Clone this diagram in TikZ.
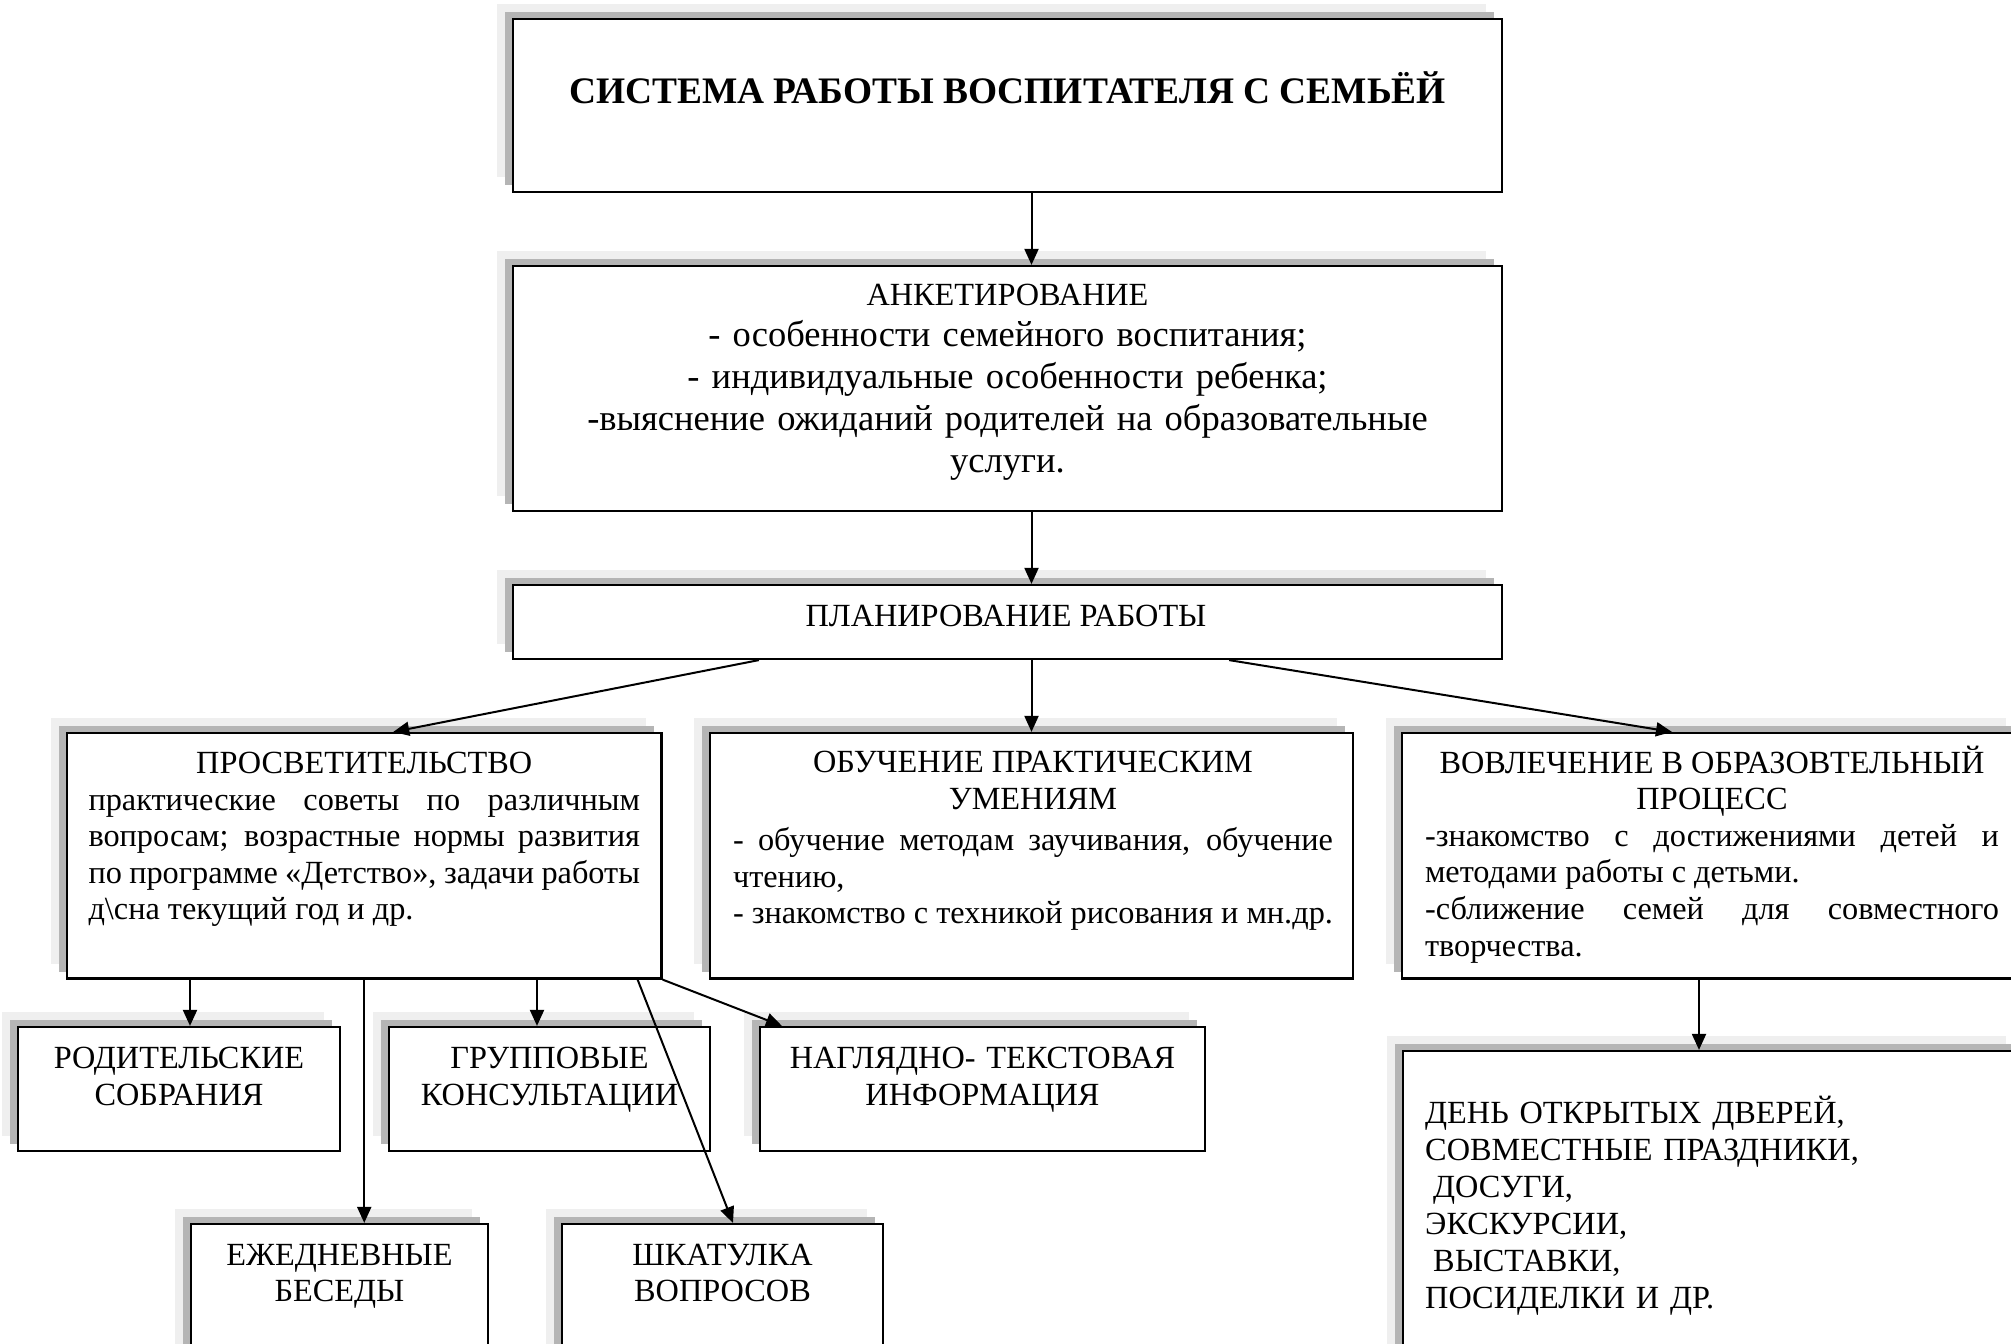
\documentclass[tikz,border=0pt]{standalone}
\usepackage{fontspec}
\setmainfont{Liberation Serif}
\usetikzlibrary{arrows.meta, shadows}
\definecolor{shlight}{HTML}{EFEFEF}
\definecolor{shdark}{HTML}{B5B5B5}
\setlength{\parindent}{0pt}
\hyphenpenalty=10000
\exhyphenpenalty=10000
\tolerance=9999
\hbadness=10000

\begin{document}
\begin{tikzpicture}[x=1pt, y=-1pt,
    box/.style={draw, line width=2.2pt, fill=white, inner sep=0pt,
      general shadow={shadow xshift=-16pt, shadow yshift=15pt, fill=shlight},
      general shadow={shadow xshift=-8pt, shadow yshift=7pt, fill=shdark}},
    txt/.style={inner sep=0pt, anchor=base, align=center, font=\fontsize{32.3}{37}\selectfont},
    para/.style={inner sep=0pt, anchor=base, align=justify, font=\fontsize{32.3}{36.6}\selectfont},
    arr/.style={line width=2pt, -{Triangle[length=16pt, width=14pt]}}]
    \useasboundingbox (0,0) rectangle (2011,1344);
    \clip (0,0) rectangle (2011,1344);

    % Top boxes
    \node[box, minimum width=989pt, minimum height=173pt] (title) at (1007.5,105.5) {};
    \node[box, minimum width=989pt, minimum height=245pt] (anket) at (1007.5,388.5) {};
    \node[box, minimum width=989pt, minimum height=74pt] (plan) at (1007.5,622) {};

    % Middle row
    \node[box, minimum width=594.5pt, minimum height=245.5pt] (prosvet) at (364.25,855.75) {};
    \node[box, minimum width=643pt, minimum height=245.5pt] (obuch) at (1031.5,855.75) {};
    \node[box, minimum width=620pt, minimum height=245.5pt] (vovl) at (1712,855.75) {};

    % Forms of work
    \node[box, minimum width=322pt, minimum height=124pt] (rodit) at (179,1089) {};
    \node[box, minimum width=321pt, minimum height=124pt] (grupp) at (549.5,1089) {};
    \node[box, minimum width=445pt, minimum height=124pt] (nagl) at (982.5,1089) {};
    \node[box, minimum width=297pt, minimum height=160pt] (ezhed) at (339.5,1304) {};
    \node[box, minimum width=321pt, minimum height=160pt] (shkat) at (722.5,1304) {};
    \node[box, minimum width=619pt, minimum height=330pt] (den) at (1712.5,1216) {};

    % Texts
    \node[inner sep=0pt, anchor=base, font=\fontsize{37.4}{42}\selectfont\bfseries] (titletxt) at (1007.5,103) {СИСТЕМА РАБОТЫ ВОСПИТАТЕЛЯ С СЕМЬЁЙ};
    \node[txt, text width=940pt, font=\fontsize{36.5}{41.8}\selectfont] (ankettxt) at (1007.5,305) {{\fontsize{32.3}{41.8}\selectfont АНКЕТИРОВАНИЕ}\\- особенности семейного воспитания;\\- индивидуальные особенности ребенка;\\-выяснение ожиданий родителей на образовательные\\услуги.};
    \node[txt] (plantxt) at (1006,626) {ПЛАНИРОВАНИЕ РАБОТЫ};
    \node[para, text width=551.5pt] (prosvettxt) at (364.25,773.5) {{\centering ПРОСВЕТИТЕЛЬСТВО\par}практические советы по различным\linebreak вопросам; возрастные нормы развития\linebreak по программе «Детство», задачи работы\linebreak д\textbackslash{}сна текущий год и др.};
    \node[para, text width=600pt] (obuchtxt) at (1033,772.5) {{\centering ОБУЧЕНИЕ ПРАКТИЧЕСКИМ\\УМЕНИЯМ\par}\vspace{5pt}- обучение методам заучивания, обучение\linebreak чтению,\par - знакомство с техникой рисования и мн.др.};
    \node[para, text width=574pt] (vovltxt) at (1712,773) {{\centering ВОВЛЕЧЕНИЕ В ОБРАЗОВТЕЛЬНЫЙ\\ПРОЦЕСС\par}-знакомство с достижениями детей и\linebreak методами работы с детьми.\par -сближение семей для совместного\linebreak творчества.};
    \node[txt, text width=300pt] (rodittxt) at (179,1068) {РОДИТЕЛЬСКИЕ\\СОБРАНИЯ};
    \node[txt, text width=300pt] (grupptxt) at (549.5,1068) {ГРУППОВЫЕ\\КОНСУЛЬТАЦИИ};
    \node[txt, text width=420pt] (nagltxt) at (982.5,1068) {НАГЛЯДНО- ТЕКСТОВАЯ\\ИНФОРМАЦИЯ};
    \node[txt, text width=280pt, font=\fontsize{32.3}{36.5}\selectfont] (ezhedtxt) at (339.5,1265) {ЕЖЕДНЕВНЫЕ\\БЕСЕДЫ};
    \node[txt, text width=300pt, font=\fontsize{32.3}{36.5}\selectfont] (shkattxt) at (722.5,1265) {ШКАТУЛКА\\ВОПРОСОВ};
    \node[txt, text width=560pt, align=left, anchor=base west, font=\fontsize{32.3}{36.9}\selectfont] (dentxt) at (1425,1123.5) {ДЕНЬ ОТКРЫТЫХ ДВЕРЕЙ,\\СОВМЕСТНЫЕ ПРАЗДНИКИ,\\\hspace*{8pt}ДОСУГИ,\\ЭКСКУРСИИ,\\\hspace*{8pt}ВЫСТАВКИ,\\ПОСИДЕЛКИ И ДР.};

    % Arrows
    \draw[arr] (title.south -| obuch.north) -- (anket.north -| obuch.north);
    \draw[arr] (anket.south -| obuch.north) -- (plan.north -| obuch.north);
    \draw[arr] (plan.south -| obuch.north) -- (obuch.north);
    \draw[arr] ([xshift=247pt]plan.south west) -- ([xshift=29pt]prosvet.north);
    \draw[arr] ([xshift=-274pt]plan.south east) -- ([xshift=-40pt]vovl.north);
    \draw[arr] ([xshift=11pt]rodit.north |- prosvet.south) -- ([xshift=11pt]rodit.north);
    \draw[arr] ([xshift=-12.5pt]grupp.north |- prosvet.south) -- ([xshift=-12.5pt]grupp.north);
    \draw[arr] (prosvet.south) -- (prosvet.south |- ezhed.north);
    \draw[arr] ([xshift=-25pt]prosvet.south east) -- ([xshift=10.5pt]shkat.north);
    \draw[arr] (prosvet.south east) -- ([xshift=23pt]nagl.north west);
    \draw[arr] ([xshift=-13pt]vovl.south) -- ([xshift=-13pt]vovl.south |- den.north);
\end{tikzpicture}
\end{document}
